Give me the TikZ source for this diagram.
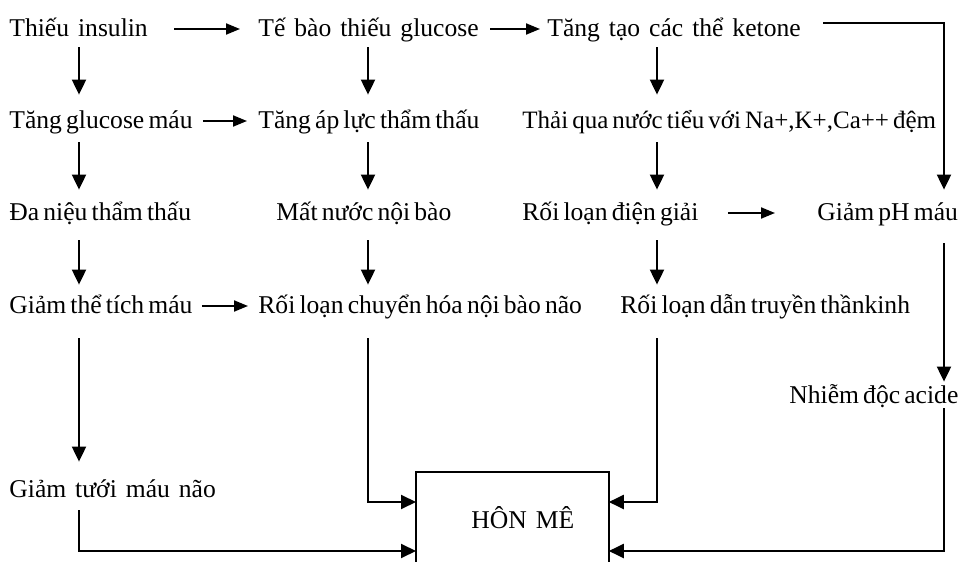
\documentclass[tikz,border=0pt]{standalone}
\usepackage{fontspec}
\setmainfont{Liberation Serif}[WordSpace=0.65]
\newfontfamily\widesp{Liberation Serif}[WordSpace=1.4]
\usetikzlibrary{arrows.meta}
\begin{document}
\begin{tikzpicture}[x=0.5pt,y=-0.5pt,
  lbl/.style={anchor=base west, inner sep=0pt, text height=9pt, text depth=2pt, font=\fontsize{12.8}{15}\selectfont},
  wlbl/.style={lbl, font=\widesp\fontsize{12.8}{15}\selectfont},
  nlbl/.style={lbl, font=\fontsize{12.5}{15}\selectfont},
  arr/.style={line width=1pt, -{Triangle[length=7.5pt,width=7pt]}},
  harr/.style={line width=1pt, -{Triangle[length=7pt,width=5.5pt]}},
  ln/.style={line width=1pt}]
\useasboundingbox (0,0) rectangle (971,562);
% columns
\coordinate (c1) at (79,0);
\coordinate (c2) at (368,0);
\coordinate (c3) at (657,0);
\coordinate (c4) at (944,0);
\coordinate (hin) at (0,502);
\coordinate (hlow) at (0,551);
\coordinate (k0) at (823,23);
% nodes
\node[wlbl] (n11) at (9,36) {Thiếu insulin};
\node[wlbl] (n12) at (258,36) {Tế bào thiếu glucose};
\node[wlbl] (n13) at (547,36) {Tăng tạo các thể ketone};
\node[lbl] (n21) at (9,128) {Tăng glucose máu};
\node[lbl] (n22) at (258,128) {Tăng áp lực thẩm thấu};
\node[nlbl] (n23) at (522,128) {Thải qua nước tiểu với Na+,K+,Ca++ đệm};
\node[lbl] (n31) at (9,220) {Đa niệu thẩm thấu};
\node[lbl] (n32) at (276,220) {Mất nước nội bào};
\node[lbl] (n33) at (522,220) {Rối loạn điện giải};
\node[lbl] (n34) at (817,220) {Giảm pH máu};
\node[lbl] (n41) at (9,313) {Giảm thể tích máu};
\node[lbl] (n42) at (258,313) {Rối loạn chuyển hóa nội bào não};
\node[lbl] (n43) at (620,313) {Rối loạn dẫn truyền thầnkinh};
\node[lbl] (n5) at (789,403) {Nhiễm độc acide};
\node[wlbl] (n6) at (9,497) {Giảm tưới máu não};
\node[minimum width=96pt, minimum height=45pt, inner sep=0pt, anchor=north west] (hm) at (416,472) {};
\draw[ln] (hm.south west) -- (hm.north west) -- (hm.north east) -- (hm.south east);
\node[wlbl] (hmt) at (471,528) {HÔN MÊ};
% horizontal arrows
\draw[harr, shorten <=13pt, shorten >=9pt] (n11.east) -- (n12.west);
\draw[harr, shorten <=5.5pt, shorten >=3.5pt] (n12.east) -- (n13.west);
\draw[harr, shorten <=5pt, shorten >=5.5pt] (n21.east) -- (n22.west);
\draw[harr, shorten <=14.5pt, shorten >=21pt] (n33.east) -- (n34.west);
\draw[harr, shorten <=4.5pt, shorten >=5pt] (n41.east) -- (n42.west);
% column 1
\draw[arr, shorten <=3.5pt, shorten >=7.5pt] (c1 |- n11.south) -- (c1 |- n21.north);
\draw[arr, shorten <=5pt, shorten >=6pt] (c1 |- n21.south) -- (c1 |- n31.north);
\draw[arr, shorten <=8pt, shorten >=5pt] (c1 |- n31.south) -- (c1 |- n41.north);
\draw[arr, shorten <=10.5pt, shorten >=8.5pt] (c1 |- n41.south) -- (c1 |- n6.north);
\draw[arr, shorten <=4.5pt] (c1 |- n6.south) |- (hm.west |- hlow);
% column 2
\draw[arr, shorten <=3.5pt, shorten >=7.5pt] (c2 |- n12.south) -- (c2 |- n22.north);
\draw[arr, shorten <=5pt, shorten >=6pt] (c2 |- n22.south) -- (c2 |- n32.north);
\draw[arr, shorten <=8pt, shorten >=5pt] (c2 |- n32.south) -- (c2 |- n42.north);
\draw[arr, shorten <=10.5pt] (c2 |- n42.south) |- (hm.west |- hin);
% column 3
\draw[arr, shorten <=3.5pt, shorten >=7.5pt] (c3 |- n13.south) -- (c3 |- n23.north);
\draw[arr, shorten <=5pt, shorten >=6pt] (c3 |- n23.south) -- (c3 |- n33.north);
\draw[arr, shorten <=8pt, shorten >=5pt] (c3 |- n33.south) -- (c3 |- n43.north);
\draw[arr, shorten <=10.5pt] (c3 |- n43.south) |- (hm.east |- hin);
% column 4
\draw[arr, shorten >=6pt] (k0) -| (c4 |- n34.north);
\draw[arr, shorten <=9.5pt, shorten >=1.5pt] (c4 |- n34.south) -- (c4 |- n5.north);
\draw[arr, shorten <=0.5pt] (c4 |- n5.south) |- (hm.east |- hlow);
\end{tikzpicture}
\end{document}
